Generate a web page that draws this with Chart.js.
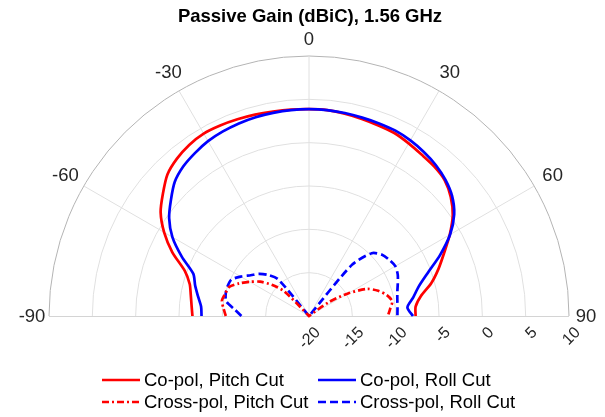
<!DOCTYPE html>
<html>
<head>
<meta charset="utf-8">
<script src="https://cdn.jsdelivr.net/npm/chart.js@4.4.0/dist/chart.umd.min.js"></script>
<style>
  html, body { margin: 0; padding: 0; background: #fff; }
  #wrap { width: 605px; height: 417px; }
</style>
</head>
<body>
<div id="wrap"><canvas id="gainChart" width="605" height="417"></canvas></div>
<script>
// angles in degrees, gain in dBiC
const angles = [-90, -85, -80, -75, -70, -65, -60, -55, -50, -45, -40, -35, -30, -25, -20, -15, -10, -5, 0,
                5, 10, 15, 20, 25, 30, 35, 40, 45, 50, 55, 60, 65, 70, 75, 80, 85, 90];

const coPolPitch = [-6.55, -6.4, -6.15, -5.75, -4.75, -2.6, -0.7, 0.9, 2.0, 3.1, 3.7, 4.1, 4.3, 4.25, 4.15, 4.05, 3.95, 3.9, 3.86,
                    3.85, 3.7, 3.55, 3.4, 3.3, 3.0, 2.7, 2.5, 2.15, 1.35, 0.25, -1.25, -2.8, -4.1, -5.4, -6.9, -7.65, -7.7];

const coPolRoll = [-7.6, -7.5, -7.0, -6.4, -5.8, -3.8, -1.8, -0.3, 0.8, 1.9, 2.55, 2.95, 3.3, 3.5, 3.65, 3.75, 3.8, 3.85, 3.86,
                   3.85, 3.78, 3.7, 3.65, 3.6, 3.4, 3.1, 2.75, 2.25, 1.55, 0.45, -1.2, -3.3, -5.4, -6.9, -7.8, -8.6, -8.0];

const crossPolPitch = [-10.4, -10.1, -9.8, -10.0, -10.2, -11.1, -12.1, -13.1, -14.4, -16.0, -20, -20, -20, -20, -20, -20, -20, -20, -20,
                       -20, -20, -20, -20, -20, -20, -20, -20, -20, -20, -17.2, -14.8, -12.6, -11.5, -10.7, -10.25, -10.6, -10.9];

const crossPolRoll = [-12.2, -11.4, -10.3, -10.05, -10.0, -10.1, -10.9, -11.8, -12.45, -13.3, -14.5, -20, -20, -20, -20, -20, -20, -20, -20,
                      -20, -20, -20, -20, -20, -20, -20, -12.3, -9.75, -9.0, -8.7, -8.5, -8.7, -9.1, -9.45, -9.65, -9.75, -9.8];

const seriesLabels = ['Co-pol, Pitch Cut', 'Co-pol, Roll Cut', 'Cross-pol, Pitch Cut', 'Cross-pol, Roll Cut'];
const rTicks = [-20, -15, -10, -5, 0, 5, 10];
const thetaTicks = [-90, -60, -30, 0, 30, 60, 90];
const rMin = -20;
const rMax = 10;

const textColor = '#262626';
const fontFamily = '"Liberation Sans", Arial, sans-serif';

// polar (deg, dB) -> cartesian in "dB above rMin" units
function toXY(theta, db) {
    const r = Math.max(0, Math.min(rMax, db) - rMin);
    const a = theta * Math.PI / 180;
    return { x: r * Math.sin(a), y: r * Math.cos(a) };
}

function makeSeries(values) {
    return angles.map((th, i) => toXY(th, values[i]));
}

const polarGrid = {
    id: 'polarGrid',
    beforeDatasetsDraw(chart) {
        const ctx = chart.ctx;
        const xs = chart.scales.x, ys = chart.scales.y;
        const cx = xs.getPixelForValue(0);
        const cy = ys.getPixelForValue(0);
        const unit = xs.getPixelForValue(1) - cx;
        const R = (rMax - rMin) * unit;

        ctx.save();
        ctx.lineWidth = 1;

        // rings
        rTicks.forEach(t => {
            if (t === rMin) return;
            ctx.beginPath();
            ctx.arc(cx, cy, (t - rMin) * unit, Math.PI, 2 * Math.PI);
            ctx.strokeStyle = t === rMax ? '#b4b4b4' : '#e0e0e0';
            ctx.stroke();
        });

        // spokes
        ctx.strokeStyle = '#e0e0e0';
        thetaTicks.forEach(th => {
            if (Math.abs(th) === 90) return;
            const a = th * Math.PI / 180;
            ctx.beginPath();
            ctx.moveTo(cx, cy);
            ctx.lineTo(cx + R * Math.sin(a), cy - R * Math.cos(a));
            ctx.stroke();
        });
        ctx.strokeStyle = '#d4d4d4';
        ctx.beginPath();
        ctx.moveTo(cx - R, cy + 0.5);
        ctx.lineTo(cx + R, cy + 0.5);
        ctx.stroke();

        // theta labels
        ctx.fillStyle = textColor;
        ctx.font = '18.5px ' + fontFamily;
        ctx.textAlign = 'center';
        ctx.textBaseline = 'middle';
        thetaTicks.forEach(th => {
            const a = th * Math.PI / 180;
            const lr = R + 17 + 5 * Math.abs(Math.sin(2 * a));
            ctx.fillText(String(th), cx + lr * Math.sin(a), cy - lr * Math.cos(a) + 1);
        });

        // r labels, rotated
        ctx.font = '16px ' + fontFamily;
        ctx.textAlign = 'right';
        rTicks.forEach(t => {
            const px = cx + (t - rMin) * unit;
            ctx.save();
            ctx.translate(px + 9, cy + 14);
            ctx.rotate(-Math.PI / 4);
            ctx.fillText(String(t), 0, 0);
            ctx.restore();
        });
        ctx.restore();
    },
    afterDraw(chart) {
        const ctx = chart.ctx;
        ctx.save();
        ctx.fillStyle = '#000';
        ctx.font = 'bold 18.5px ' + fontFamily;
        ctx.textAlign = 'center';
        ctx.textBaseline = 'middle';
        ctx.fillText('Passive Gain (dBiC), 1.56 GHz', 310, 17);

        // legend, two columns
        const colX = [102, 318];
        const rowY = [380, 402];
        ctx.font = '18.5px ' + fontFamily;
        ctx.textAlign = 'left';
        chart.data.datasets.forEach((ds, i) => {
            const x0 = colX[i % 2];
            const y0 = rowY[Math.floor(i / 2)];
            ctx.beginPath();
            ctx.setLineDash(ds.borderDash || []);
            ctx.strokeStyle = ds.borderColor;
            ctx.lineWidth = ds.borderWidth;
            ctx.moveTo(x0, y0);
            ctx.lineTo(x0 + 38, y0);
            ctx.stroke();
            ctx.setLineDash([]);
            ctx.fillStyle = '#000';
            ctx.fillText(ds.label, x0 + 42, y0 + 1);
        });
        ctx.restore();
    }
};

const lineStyle = { showLine: true, pointRadius: 0, borderWidth: 2.7, tension: 0.25, clip: false, fill: false };

new Chart(document.getElementById('gainChart'), {
    type: 'scatter',
    data: {
        datasets: [
            Object.assign({ label: seriesLabels[0], data: makeSeries(coPolPitch), borderColor: '#ff0000', order: 4 }, lineStyle),
            Object.assign({ label: seriesLabels[1], data: makeSeries(coPolRoll), borderColor: '#0000ff', order: 3 }, lineStyle),
            Object.assign({ label: seriesLabels[2], data: makeSeries(crossPolPitch), borderColor: '#ff0000', borderDash: [7, 3, 2, 3], order: 1 }, lineStyle),
            Object.assign({ label: seriesLabels[3], data: makeSeries(crossPolRoll), borderColor: '#0000ff', borderDash: [8, 4], order: 2 }, lineStyle)
        ]
    },
    options: {
        responsive: false,
        animation: false,
        devicePixelRatio: 1,
        layout: { padding: { left: 49, right: 36, top: 56, bottom: 101 } },
        scales: {
            x: { type: 'linear', min: -(rMax - rMin), max: rMax - rMin, display: false },
            y: { type: 'linear', min: 0, max: rMax - rMin, display: false }
        },
        plugins: {
            legend: { display: false },
            tooltip: { enabled: false },
            title: { display: false }
        }
    },
    plugins: [polarGrid]
});
</script>
</body>
</html>
